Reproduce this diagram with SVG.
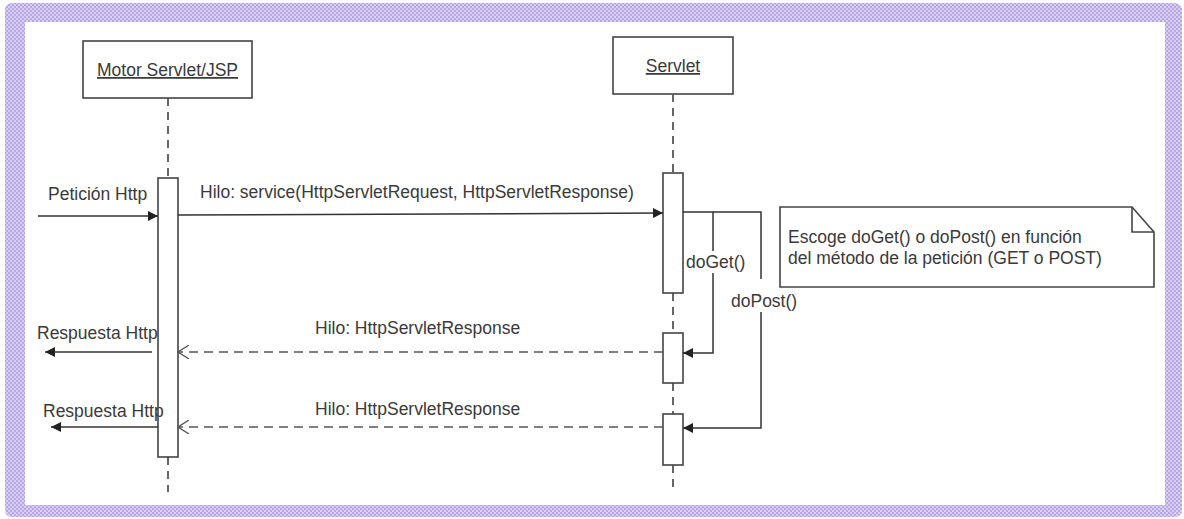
<svg xmlns="http://www.w3.org/2000/svg" width="1184" height="519" viewBox="0 0 1184 519">
<defs>
<marker id="fill" viewBox="0 0 10 10" refX="10" refY="5" markerWidth="10" markerHeight="10" markerUnits="userSpaceOnUse" orient="auto"><path d="M0,0 L10,5 L0,10 Z" fill="#222"/></marker>
<marker id="open" viewBox="0 0 12 14" refX="11" refY="7" markerWidth="12" markerHeight="14" markerUnits="userSpaceOnUse" orient="auto"><path d="M0,0 L11,7 L0,14" fill="none" stroke="#555" stroke-width="1.3"/></marker>
<pattern id="chk" width="4" height="4" patternUnits="userSpaceOnUse"><rect width="4" height="4" fill="#d9cff3"/><rect width="2" height="2" fill="#b9a6e4"/><rect x="2" y="2" width="2" height="2" fill="#b9a6e4"/></pattern>
</defs>
<style>
.t{font-family:"Liberation Sans",Arial,sans-serif;font-size:17.5px;fill:#3a3a3a}
.box{fill:#fff;stroke:#444;stroke-width:1.6}
.life{stroke:#555;stroke-width:1.8;stroke-dasharray:8,6;fill:none}
.msg{stroke:#333;stroke-width:1.5;fill:none}
.ret{stroke:#555;stroke-width:1.6;stroke-dasharray:9,6;fill:none}
</style>
<rect width="1184" height="519" fill="#fff"/>
<g id="frame">
<path fill="url(#chk)" fill-rule="evenodd" d="M12,3 H1174 Q1182,3 1182,11 V509 Q1182,517 1174,517 H12 Q5,517 5,509 V11 Q5,3 12,3 Z M25,22 V505 H1165 V22 Z"/>
</g>
<g id="motor">
<rect class="box" x="83" y="41" width="169" height="57"/>
<text class="t" x="167.5" y="76" text-anchor="middle" text-decoration="underline">Motor Servlet/JSP</text>
<line class="life" x1="168" y1="98" x2="168" y2="177"/>
<line class="life" x1="168" y1="457" x2="168" y2="492"/>
<rect class="box" x="158" y="178" width="20" height="279"/>
</g>
<g id="servlet">
<rect class="box" x="613" y="37" width="120" height="57"/>
<text class="t" x="673" y="72" text-anchor="middle" text-decoration="underline">Servlet</text>
<line class="life" x1="673" y1="94" x2="673" y2="173"/>
<line class="life" x1="673" y1="293" x2="673" y2="333"/>
<line class="life" x1="673" y1="383" x2="673" y2="414"/>
<line class="life" x1="673" y1="465" x2="673" y2="492"/>
<rect class="box" x="663" y="173" width="20" height="120"/>
<rect class="box" x="663" y="333" width="20" height="50"/>
<rect class="box" x="663" y="414" width="20" height="51"/>
</g>
<g id="note">
<path class="box" d="M780,207 H1132 L1154,232 V287 H780 Z"/>
<path fill="none" stroke="#444" stroke-width="1.6" d="M1132,207 V232 H1154"/>
<text class="t" x="788" y="243">Escoge doGet() o doPost() en función</text>
<text class="t" x="788" y="264">del método de la petición (GET o POST)</text>
</g>
<g id="connectors">
<line class="msg" x1="38" y1="216" x2="158" y2="216" marker-end="url(#fill)"/>
<text class="t" x="48" y="200">Petición Http</text>
<line class="msg" x1="178" y1="215" x2="663" y2="213" marker-end="url(#fill)"/>
<text class="t" x="200" y="198">Hilo: service(HttpServletRequest, HttpServletResponse)</text>
<path class="msg" d="M683,212 H713 V251"/>
<path class="msg" d="M713,273 V353 H683" marker-end="url(#fill)"/>
<text class="t" x="686" y="268">doGet()</text>
<path class="msg" d="M713,212 H761 V279"/>
<path class="msg" d="M761,312 V428 H683" marker-end="url(#fill)"/>
<text class="t" x="731" y="307">doPost()</text>
<line class="ret" x1="663" y1="352" x2="178" y2="352" marker-end="url(#open)"/>
<text class="t" x="315" y="334">Hilo: HttpServletResponse</text>
<line class="ret" x1="663" y1="427" x2="178" y2="427" marker-end="url(#open)"/>
<text class="t" x="315" y="415">Hilo: HttpServletResponse</text>
<line class="msg" x1="152" y1="352" x2="45" y2="352" marker-end="url(#fill)"/>
<text class="t" x="37" y="339">Respuesta Http</text>
<line class="msg" x1="158" y1="427" x2="51" y2="427" marker-end="url(#fill)"/>
<text class="t" x="43" y="417">Respuesta Http</text>
</g>
</svg>
